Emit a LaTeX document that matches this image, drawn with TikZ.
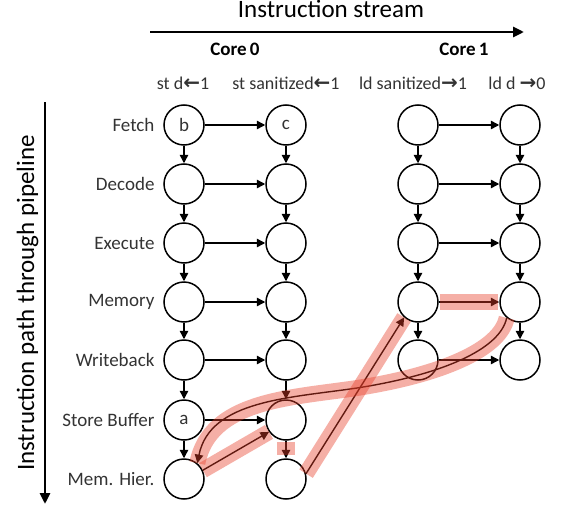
\documentclass[tikz,border=0pt]{standalone}
\usepackage{fontspec}
\setmainfont{Carlito}
\newfontfamily\arrowfont{DejaVu Sans}
\usetikzlibrary{arrows.meta}
\definecolor{hlred}{HTML}{E8402A}
\definecolor{txt}{HTML}{333333}
\newcommand{\lar}{{\arrowfont\bfseries\fontsize{20}{20}\selectfont ←}}
\newcommand{\rar}{{\arrowfont\bfseries\fontsize{20}{20}\selectfont →}}
\begin{document}
\begin{tikzpicture}[x=1pt,y=-1pt,
  stage/.style={circle,draw,line width=1.5pt,minimum size=40pt,inner sep=0pt,font=\fontsize{19}{19}\selectfont,text=txt},
  flow/.style={line width=1.4pt,-{Triangle[length=8.5pt,width=8.5pt]}},
  bigarrow/.style={line width=2.8pt,-{Triangle[length=11pt,width=10pt]}},
  hl/.style={line width=16pt,draw=hlred,opacity=0.42},
  rowlab/.style={anchor=east,font=\fontsize{19}{19}\selectfont,text=txt},
  instr/.style={anchor=base,font=\fontsize{18}{18}\selectfont,text=txt},
  corelab/.style={font=\bfseries\fontsize{19}{19}\selectfont},
  title/.style={font=\fontsize{25}{25}\selectfont}
]
\useasboundingbox (0,0) rectangle (561,508);

% axes
\coordinate (hs) at (150,32);
\coordinate (he) at (524,32);
\draw[bigarrow] (hs) -- (he);
\node[title,anchor=base] (ttl) at (331,18) {Instruction stream};
\coordinate (vs) at (45,102);
\coordinate (ve) at (45,504);
\draw[bigarrow] (vs) -- (ve);
\node[title,rotate=90,anchor=base] (vttl) at (34,303) {Instruction path through pipeline};

\node[corelab] (core0) at (235,49) {Core\,0};
\node[corelab] (core1) at (464,49) {Core\,1};

\node[instr] (i1) at (183,89) {st d\lar1};
\node[instr] (i2) at (286,89) {st sanitized\lar1};
\node[instr] (i3) at (413,89) {ld sanitized\rar1};
\node[instr] (i4) at (517,89) {ld d \rar0};

% stage labels
\foreach \r/\y/\t in {1/125/Fetch,2/184/Decode,3/243/Execute,4/302/Memory,5/360/Writeback,6/420/Store Buffer,7/479/Mem.\hspace{6pt}Hier.}
  \node[rowlab] (lab\r) at (158,\y) {\t};

% circles
\foreach \r/\y in {1/125,2/184,3/243,4/302,5/360,6/420,7/479} {
  \node[stage] (c1r\r) at (184,\y) {};
  \node[stage] (c2r\r) at (286,\y) {};
}
\foreach \r/\y in {1/125,2/184,3/243,4/302,5/360} {
  \node[stage] (c3r\r) at (418,\y) {};
  \node[stage] (c4r\r) at (520,\y) {};
}
\node at (c1r1) {\fontsize{19}{19}\selectfont\color{txt}b};
\node at (c2r1) {\fontsize{19}{19}\selectfont\color{txt}c};
\node at (c1r6) {\fontsize{19}{19}\selectfont\color{txt}a};

% vertical arrows
\foreach \r [count=\n from 2] in {1,...,6} {
  \draw[flow] (c1r\r) -- (c1r\n);
  \draw[flow] (c2r\r) -- (c2r\n);
}
\foreach \r [count=\n from 2] in {1,...,4} {
  \draw[flow] (c3r\r) -- (c3r\n);
  \draw[flow] (c4r\r) -- (c4r\n);
}
% horizontal arrows
\foreach \r in {1,...,6}
  \draw[flow] (c1r\r) -- (c2r\r);
\foreach \r in {1,...,5}
  \draw[flow] (c3r\r) -- (c4r\r);

% communication arrows
\draw[flow] (c1r7.25) -- (c2r6.215);
\draw[flow] (c2r7.15) -- (c3r4.228);
\draw[flow] (c4r4.230) .. controls (500,350) and (440,375) .. (357,388)
                      .. controls (290,398) and (210,400) .. (c1r7.50);

% highlights
\draw[hl] (c1r7.25) -- (c2r6.215);
\draw[hl,line width=18pt,shorten <=1pt,shorten >=3pt] (c2r6) -- (c2r7);
\draw[hl] (c2r7.15) -- (c3r4.228);
\draw[hl,shorten <=1pt,shorten >=1pt] (c3r4) -- (c4r4);
\draw[hl] (c4r4.230) .. controls (500,350) and (440,375) .. (357,388)
                    .. controls (290,398) and (210,400) .. (c1r7.50);
\end{tikzpicture}
\end{document}
